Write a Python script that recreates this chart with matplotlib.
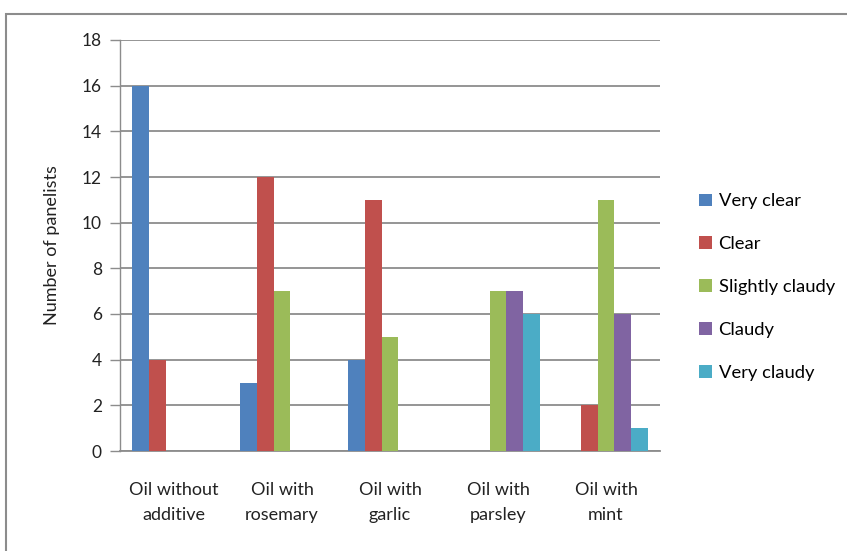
import matplotlib
matplotlib.use("Agg")
import matplotlib.pyplot as plt
import numpy as np
from matplotlib.patches import Rectangle

categories = ["Oil without\nadditive", "Oil with\nrosemary", "Oil with\ngarlic",
              "Oil with\nparsley", "Oil with\nmint"]
series_names = ["Very clear", "Clear", "Slightly claudy", "Claudy", "Very claudy"]
very_clear = [16, 3, 4, 0, 0]
clear = [4, 12, 11, 0, 2]
slightly_claudy = [0, 7, 5, 7, 11]
claudy = [0, 0, 0, 7, 6]
very_claudy = [0, 0, 0, 6, 1]
y_ticks = [0, 2, 4, 6, 8, 10, 12, 14, 16, 18]

series = [very_clear, clear, slightly_claudy, claudy, very_claudy]
colors = ["#4F81BD", "#C0504D", "#9BBB59", "#8064A2", "#4BACC6"]

plt.rcParams["font.family"] = ["Lato", "DejaVu Sans"]

fig = plt.figure(figsize=(8.47, 5.51), dpi=100)
fig.patch.set_facecolor("white")

# outer chart frame
fig.patches.append(Rectangle((6 / 847, -0.1), 1.2, 1 - 14 / 551 + 0.1,
                             transform=fig.transFigure, fill=False,
                             edgecolor="#8C8C8C", linewidth=1.5, zorder=0))

ax = fig.add_axes([120 / 847, 1 - 451 / 551, 540 / 847, 411 / 551])

n = len(series)
gap = 1.5
bar_w = 1.0 / (n + gap)
x = np.arange(len(categories))
for i, (vals, col, name) in enumerate(zip(series, colors, series_names)):
    offs = (i - (n - 1) / 2) * bar_w
    ax.bar(x + offs, vals, width=bar_w, color=col, label=name, zorder=3,
           linewidth=0)

ax.set_xlim(-0.5, len(categories) - 0.5)
ax.set_ylim(0, 18)
ax.set_yticks(y_ticks)
ax.set_yticklabels([str(v) for v in y_ticks], fontsize=12.5, color="#222222")
ax.yaxis.grid(True, color="#8C8C8C", linewidth=1.3, zorder=0)
ax.set_axisbelow(True)
ax.tick_params(axis="y", length=7, width=1.0, color="#8C8C8C", pad=6)
ax.set_xticks(x)
ax.set_xticklabels(categories, fontsize=13, color="#222222", linespacing=1.7)
ax.tick_params(axis="x", length=0, pad=22)

for side in ["top", "right"]:
    ax.spines[side].set_visible(False)
ax.spines["left"].set_color("#8C8C8C")
ax.spines["left"].set_linewidth(1.0)
ax.spines["bottom"].set_color("#8C8C8C")
ax.spines["bottom"].set_linewidth(1.3)

ax.set_ylabel("Number of panelists", fontsize=13, color="#222222", labelpad=16)

handles, labels = ax.get_legend_handles_labels()
fig.legend(handles, labels, loc="upper left", bbox_to_anchor=(692 / 847, 1 - 186 / 551),
           frameon=False, fontsize=13.2, handlelength=0.7, handleheight=0.7,
           handletextpad=0.35, labelspacing=1.47, borderaxespad=0)

fig.savefig("out.png", dpi=100, facecolor="white")
